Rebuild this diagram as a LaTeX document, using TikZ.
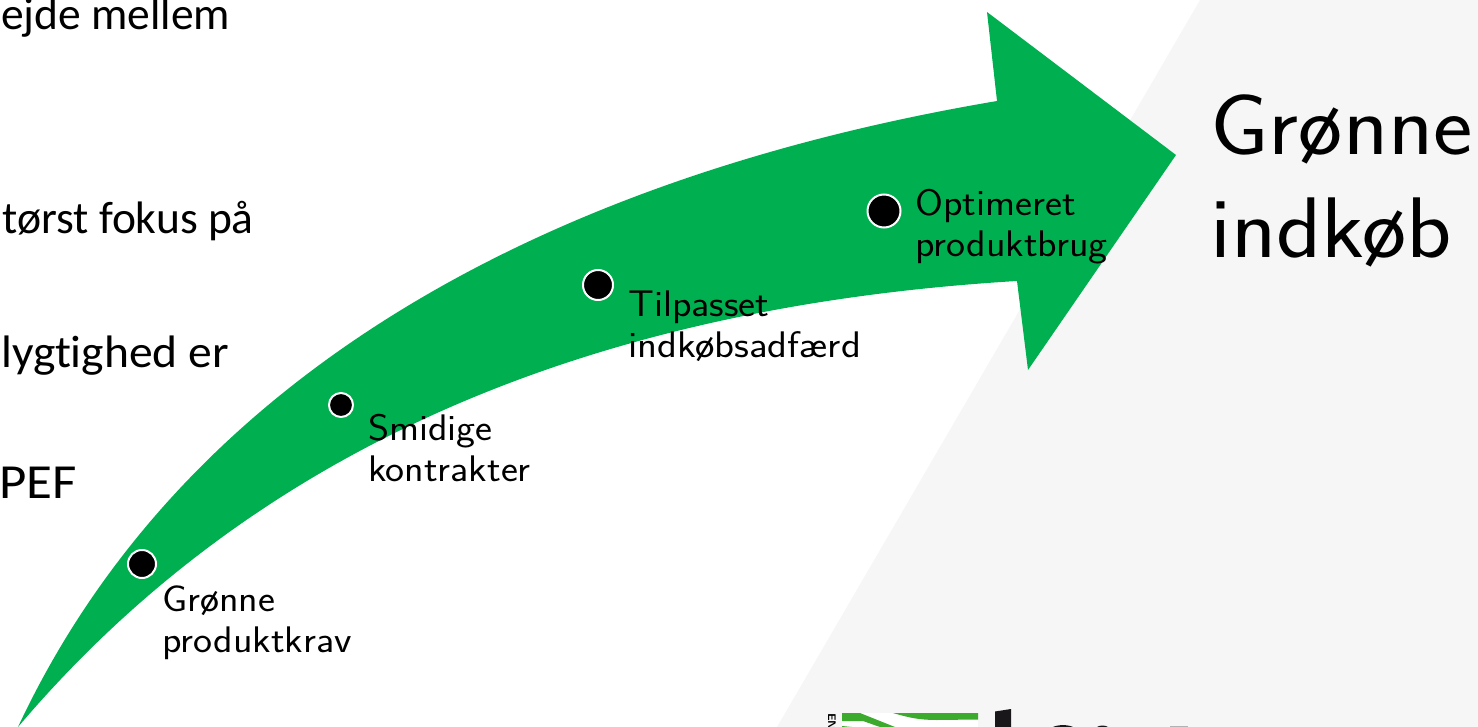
\documentclass[tikz,border=0pt]{standalone}
\usepackage{fontspec}
\newfontfamily\leftfont[Ligatures=NoCommon]{Carlito}
\setsansfont[FakeStretch=1.09]{Latin Modern Sans}
\definecolor{arrowgreen}{RGB}{0,176,80}
\definecolor{panelgray}{RGB}{246,246,246}
\definecolor{logogreen}{RGB}{60,170,45}
\definecolor{logoblack}{RGB}{26,23,27}
\tikzset{
  x=1pt,y=-1pt,
  bodytext/.style={font=\leftfont\fontsize{45.5}{45.5}\selectfont,anchor=base east,inner sep=0pt},
  steplabel/.style={font=\sffamily\fontsize{37}{41}\selectfont,anchor=north west,align=left,inner sep=0pt},
  titletext/.style={font=\sffamily\fontsize{86}{103}\selectfont,anchor=north west,align=left,inner sep=0pt},
  stepdot/.style={circle,fill=black,draw=white,line width=2pt,inner sep=0pt}
}
\begin{document}
\begin{tikzpicture}
\useasboundingbox (0,0) rectangle (1478,727);
\clip (0,0) rectangle (1478,727);
\fill[panelgray] (1200,0) -- (777,727) -- (1478,727) -- (1478,0) -- cycle;
\node[bodytext] (t1) at (230.5,30) {ejde mellem};
\node[bodytext] (t2) at (254,234) {tørst fokus på};
\node[bodytext] (t3) at (229,367) {\addfontfeature{FakeStretch=1.045}lygtighed er};
\node[bodytext] (t4) at (77,498) {\fontsize{49}{49}\selectfont\addfontfeature{FakeStretch=1.08}PEF};
\fill[arrowgreen] (18,727) .. controls (178,385) and (530,180) .. (997,101)
  -- (987,12) -- (1176,155) -- (1028,370) -- (1017,281)
  .. controls (620,305) and (270,430) .. (18,727) -- cycle;
\node[stepdot,minimum size=28pt] (d1) at (142,564) {};
\node[stepdot,minimum size=24pt] (d2) at (341,405) {};
\node[stepdot,minimum size=30pt] (d3) at (598,285) {};
\node[stepdot,minimum size=33pt] (d4) at (884,211) {};
\node[steplabel] (l1) at (162,586) {Grønne\\produktkrav};
\node[steplabel] (l2) at (368,414) {Smidige\\kontrakter};
\node[steplabel] (l3) at (628,291) {Tilpasset\\{\addfontfeature{FakeStretch=1.115}indkøbsadfærd}};
\node[steplabel] (l4) at (915,189) {Optimeret\\produktbrug};
\node[titletext] (title) at (1210,95) {Grønne\\indkøb};
% logo, cut by the lower edge
\node[font=\fontsize{11}{11}\selectfont\sffamily\bfseries,rotate=-90,anchor=west,inner sep=0pt] (en) at (832,713) {EN};
\fill[white] (842,713) rectangle (978,727);
\fill[logogreen] (842,713) -- (860,713) -- (895,727) -- (880,727) -- (863,721) -- (842,721) -- cycle;
\fill[logogreen] (893,713) -- (978,713) -- (978,719.5) -- (937,720) .. controls (920,720) and (910,718) .. (893,713) -- cycle;
\fill[logogreen] (842,726) -- (852,727) -- (842,727) -- cycle;
\fill[logoblack] (995,711.5) -- (1011,709) -- (1011,727) -- (995,727) -- cycle;
\fill[logoblack] (1053,727) .. controls (1058,724.5) and (1068,724.5) .. (1073,727) -- cycle;
\fill[logoblack] (1097,727) .. controls (1100,725) and (1105,725) .. (1108,727) -- cycle;
\fill[gray!60] (1170,726) rectangle (1188,727);
\end{tikzpicture}
\end{document}
